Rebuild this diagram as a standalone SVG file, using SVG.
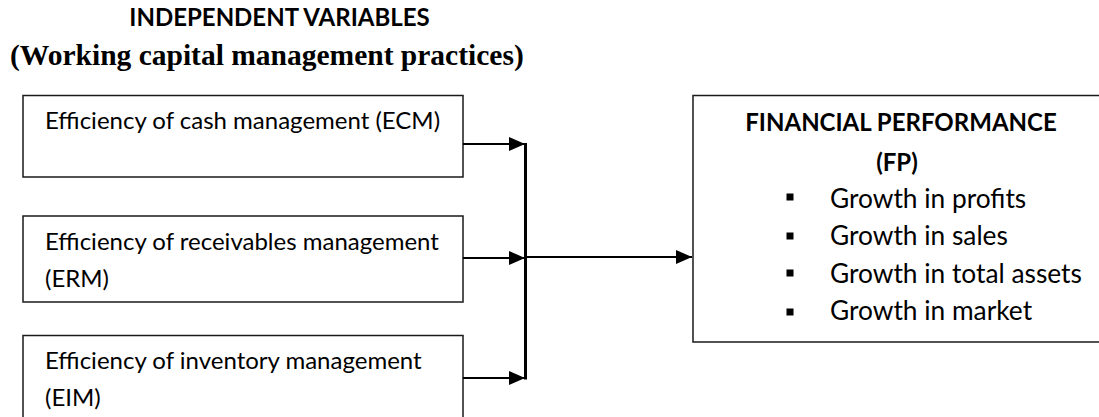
<svg xmlns="http://www.w3.org/2000/svg" width="1099" height="417" viewBox="0 0 1099 417">
  <style>
    .box { fill: #ffffff; stroke: #1a1a1a; stroke-width: 1.5; }
    .lbl { font-family: Lato, "Open Sans", sans-serif; font-size: 24px; fill: #000; }
    .bul { font-family: Lato, "Open Sans", sans-serif; font-size: 26.3px; fill: #000; }
    .hdr { font-family: Lato, "Open Sans", sans-serif; font-size: 24px; font-weight: bold; fill: #000; }
    .ser { font-family: "Liberation Serif", serif; font-size: 29.5px; font-weight: bold; fill: #000; }
    .conn { stroke: #000; stroke-width: 2.2; fill: none; }
    .bus { stroke: #000; stroke-width: 3; fill: none; }
  </style>
  <defs>
    <marker id="ah" markerUnits="userSpaceOnUse" markerWidth="17" markerHeight="14" refX="16" refY="7" orient="auto">
      <path d="M0,0 L16,7 L0,14 Z" fill="#000"/>
    </marker>
  </defs>
  <rect width="1099" height="417" fill="#ffffff"/>

  <g id="title">
    <text class="hdr" x="279.5" y="26" text-anchor="middle">INDEPENDENT VARIABLES</text>
    <text class="ser" x="10" y="65">(Working capital management practices)</text>
  </g>

  <g id="ecm">
    <rect class="box" x="23" y="95.5" width="440" height="81.5"/>
    <text class="lbl" x="45" y="129">Efficiency of cash management (ECM)</text>
  </g>
  <g id="erm">
    <rect class="box" x="23" y="216" width="440" height="86"/>
    <text class="lbl" x="45" y="250">Efficiency of receivables management</text>
    <text class="lbl" x="45" y="287">(ERM)</text>
  </g>
  <g id="eim">
    <rect class="box" x="23" y="335.5" width="440" height="90"/>
    <text class="lbl" x="45" y="369">Efficiency of inventory management</text>
    <text class="lbl" x="45" y="406">(EIM)</text>
  </g>

  <g id="fp">
    <rect class="box" x="693" y="95.5" width="410" height="246.5"/>
    <text class="hdr" x="901" y="131" text-anchor="middle">FINANCIAL PERFORMANCE</text>
    <text class="hdr" x="897" y="171" text-anchor="middle">(FP)</text>
    <rect x="786.5" y="193.5" width="7" height="7" fill="#000"/>
    <text class="bul" x="830" y="208">Growth in profits</text>
    <rect x="786.5" y="232.5" width="7" height="7" fill="#000"/>
    <text class="bul" x="830" y="245">Growth in sales</text>
    <rect x="786.5" y="269.5" width="7" height="7" fill="#000"/>
    <text class="bul" x="830" y="283">Growth in total assets</text>
    <rect x="786.5" y="308.5" width="7" height="7" fill="#000"/>
    <text class="bul" x="830" y="320">Growth in market</text>
  </g>

  <g id="connectors">
    <line class="conn" x1="463" y1="144" x2="525" y2="144" marker-end="url(#ah)"/>
    <line class="conn" x1="463" y1="258" x2="525" y2="258" marker-end="url(#ah)"/>
    <line class="conn" x1="463" y1="378" x2="525" y2="378" marker-end="url(#ah)"/>
    <line class="bus" x1="525.5" y1="143" x2="525.5" y2="379.5"/>
    <line class="conn" x1="525" y1="257" x2="692" y2="257" marker-end="url(#ah)"/>
  </g>
</svg>
